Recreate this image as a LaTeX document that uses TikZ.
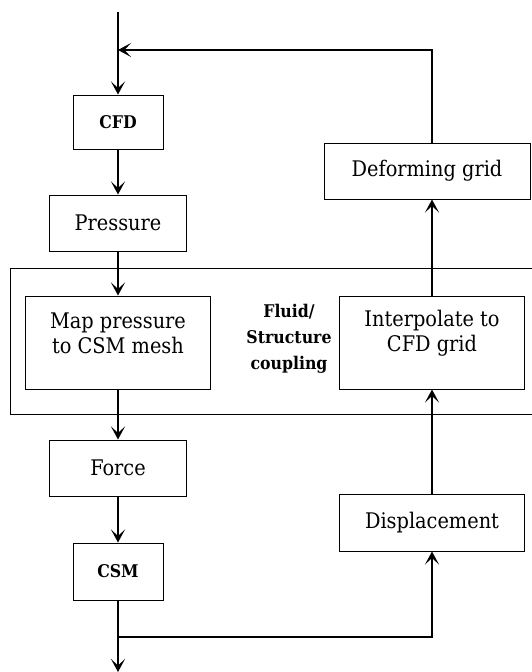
\documentclass[tikz,border=0pt]{standalone}
\usepackage{fontspec}
\setmainfont{DejaVu Serif Condensed}
\usetikzlibrary{arrows.meta}
\begin{document}
\begin{tikzpicture}[x=1pt, y=-1pt]
    % Define styles
    \tikzset{
        block/.style={
            draw,
            line width=1pt,
            inner sep=0pt,
            align=center,
            font=\fontsize{21.5}{25}\selectfont
        },
        smallblock/.style={
            block,
            font=\fontsize{17.5}{18}\selectfont\bfseries
        },
        flow/.style={
            line width=2.3pt,
            -{Stealth[length=13pt,width=14pt,inset=6.5pt]}
        },
        link/.style={
            line width=2.3pt
        }
    }
    \clip (0,0) rectangle (532,672);

    % Coupling frame
    \node[draw, line width=1pt, minimum width=540pt, minimum height=146pt] (cpl) at (280,341) {};
    \node[font=\fontsize{17.5}{26}\selectfont\bfseries, align=center] (cplT) at (289,339) {Fluid/\\Structure\\coupling};

    % Left column
    \node[smallblock, minimum width=90pt, minimum height=54pt] (cfd) at (118,122) {CFD};
    \node[block, minimum width=137pt, minimum height=56pt] (pressure) at (118,223) {Pressure};
    \node[block, minimum width=185pt, minimum height=93pt] (mapP) at (118,342.5) {};
    \node[font=\fontsize{21.5}{25}\selectfont, align=center] (mapT) at (118,333) {Map pressure\\to CSM mesh};
    \node[block, minimum width=137pt, minimum height=56pt] (force) at (118,468) {Force};
    \node[smallblock, minimum width=90pt, minimum height=57pt] (csm) at (118,571.5) {CSM};

    % Right column
    \node[block, minimum width=206pt, minimum height=56pt] (deform) at (427,171) {Deforming grid};
    \node[block, minimum width=185pt, minimum height=93pt] (interp) at (432,342.5) {};
    \node[font=\fontsize{21.5}{25}\selectfont, align=center] (interpT) at (432,333) {Interpolate to\\CFD grid};
    \node[block, minimum width=185pt, minimum height=57pt] (disp) at (432,522.5) {Displacement};

    % Junctions
    \coordinate (in) at (118,12);
    \coordinate (join) at (118,50);
    \coordinate (split) at (118,637);
    \coordinate (out) at (118,672);

    % Fluid side
    \draw[flow] (in) -- (cfd);
    \draw[flow] (cfd) -- (pressure);
    \draw[flow] (pressure) -- (mapP);
    \draw[flow] (mapP) -- (force);
    \draw[flow] (force) -- (csm);

    % Structure side
    \draw[link] (csm) -- (split);
    \draw[flow] (split) -- (out);
    \draw[flow] (split) -| (disp.south);
    \draw[flow] (disp) -- (interp);
    \draw[flow] (interp.north) -- (interp.north |- deform.south);
    \draw[flow] (interp.north |- deform.north) |- (join);
\end{tikzpicture}
\end{document}
